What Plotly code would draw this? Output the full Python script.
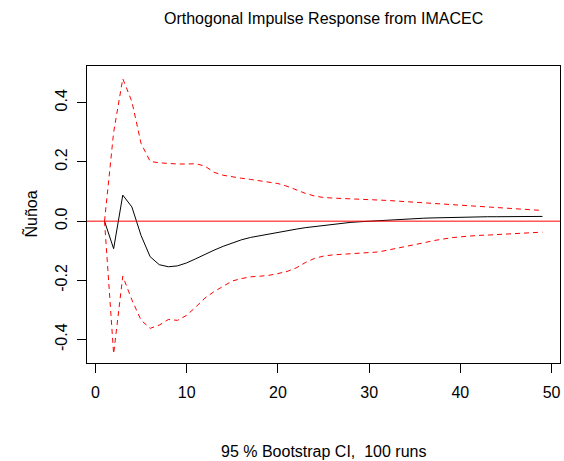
import plotly.graph_objects as go

steps = list(range(1, 50))
irf = [0.0, -0.093, 0.088, 0.048, -0.048, -0.12, -0.147, -0.154, -0.151, -0.141,
       -0.127, -0.112, -0.098, -0.085, -0.073, -0.063, -0.055, -0.049, -0.043, -0.038,
       -0.032, -0.027, -0.022, -0.018, -0.014, -0.010, -0.007, -0.004, -0.002, 0.0,
       0.002, 0.004, 0.006, 0.008, 0.009, 0.010, 0.011, 0.012, 0.013, 0.014,
       0.014, 0.015, 0.015, 0.015, 0.015, 0.016, 0.016, 0.016, 0.016]
upper = [0.0, 0.30, 0.481, 0.404, 0.263, 0.202, 0.197, 0.194, 0.193, 0.193,
         0.194, 0.186, 0.165, 0.155, 0.149, 0.145, 0.141, 0.137, 0.133, 0.127,
         0.118, 0.105, 0.094, 0.085, 0.080, 0.078, 0.077, 0.076, 0.075, 0.074,
         0.072, 0.070, 0.068, 0.066, 0.064, 0.062, 0.060, 0.058, 0.056, 0.054,
         0.052, 0.050, 0.048, 0.046, 0.044, 0.042, 0.040, 0.038, 0.036]
lower = [0.0, -0.448, -0.186, -0.266, -0.334, -0.362, -0.351, -0.332, -0.335, -0.318,
         -0.29, -0.26, -0.238, -0.219, -0.202, -0.194, -0.188, -0.186, -0.183, -0.177,
         -0.170, -0.158, -0.140, -0.126, -0.118, -0.114, -0.112, -0.110, -0.109, -0.108,
         -0.104, -0.098, -0.092, -0.087, -0.080, -0.073, -0.066, -0.060, -0.056, -0.053,
         -0.050, -0.048, -0.047, -0.045, -0.043, -0.041, -0.040, -0.038, -0.037]

x_ticks = [0, 10, 20, 30, 40, 50]
y_ticks = [-0.4, -0.2, 0.0, 0.2, 0.4]
y_tick_text = ["-0.4", "-0.2", "0.0", "0.2", "0.4"]

title = "Orthogonal Impulse Response from IMACEC"
x_label = "95 % Bootstrap CI,\u00a0 100 runs"
y_label = "Ñuñoa"

font_family = "Liberation Sans, Arial, sans-serif"
fs = 16

fig = go.Figure()
fig.add_trace(go.Scatter(x=steps, y=irf, mode="lines",
                         line=dict(color="black", width=1), showlegend=False))
fig.add_trace(go.Scatter(x=steps, y=upper, mode="lines",
                         line=dict(color="red", width=1, dash="5px,4px"), showlegend=False))
fig.add_trace(go.Scatter(x=steps, y=lower, mode="lines",
                         line=dict(color="red", width=1, dash="5px,4px"), showlegend=False))
fig.add_hline(y=0, line=dict(color="red", width=1))

fig.update_layout(
    width=564, height=461,
    margin=dict(l=87, r=4, t=66, b=98),
    paper_bgcolor="white", plot_bgcolor="white",
    font=dict(family=font_family, size=fs, color="black"),
    xaxis=dict(range=[-0.92, 50.92], tickvals=x_ticks, ticks="outside", ticklen=9,
               tickcolor="black", showgrid=False, zeroline=False,
               showline=True, linecolor="black", linewidth=1, mirror=True,
               tickfont=dict(size=fs), ticklabelstandoff=6),
    yaxis=dict(range=[-0.479, 0.524], tickvals=y_ticks, ticktext=y_tick_text,
               ticks="outside", ticklen=9, tickcolor="black", tickangle=-90,
               showgrid=False, zeroline=False,
               showline=True, linecolor="black", linewidth=1, mirror=True,
               tickfont=dict(size=fs), ticklabelstandoff=4),
    annotations=[
        dict(text=title, xref="paper", yref="paper", x=0.5, y=1.159,
             showarrow=False, font=dict(size=fs), xanchor="center", yanchor="middle"),
        dict(text=x_label, xref="paper", yref="paper", x=0.5, y=-0.297,
             showarrow=False, font=dict(size=fs), xanchor="center", yanchor="middle"),
        dict(text=y_label, xref="paper", yref="paper", x=-0.1205, y=0.5,
             showarrow=False, font=dict(size=fs), textangle=-90,
             xanchor="center", yanchor="middle"),
    ],
)

fig.write_html("out.html", config={"displayModeBar": False},
               post_script="document.body.style.margin='0';document.body.style.overflow='hidden';")
